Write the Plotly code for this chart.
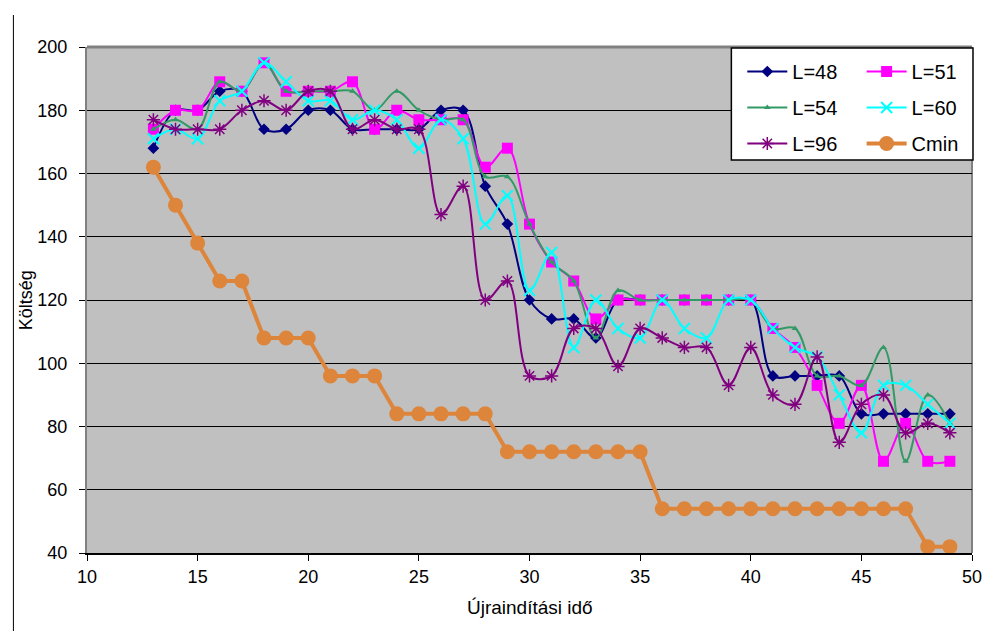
import plotly.graph_objects as go

x_vals = list(range(13, 50))

L48 = [168, 180, 180, 186, 186, 174, 174, 180, 180, 174, 174, 174, 174, 180, 180, 156, 144, 120, 114, 114,
       108, 120, 120, 120, 120, 120, 120, 120, 96, 96, 96, 96, 84, 84, 84, 84, 84]
L51 = [174, 180, 180, 189, 186, 195, 186, 186, 186, 189, 174, 180, 177, 177, 177, 162, 168, 144, 132, 126,
       114, 120, 120, 120, 120, 120, 120, 120, 111, 105, 93, 81, 93, 69, 81, 69, 69]
L54 = [174, 177, 174, 189, 186, 195, 186, 186, 186, 186, 180, 186, 180, 177, 177, 159, 159, 144, 132, 126,
       108, 123, 120, 120, 120, 120, 120, 120, 111, 111, 96, 96, 93, 105, 69, 90, 81]
L60 = [171, 174, 171, 183, 186, 195, 189, 183, 183, 177, 180, 177, 168, 177, 171, 144, 153, 123, 135, 105,
       120, 111, 108, 120, 111, 108, 120, 120, 111, 105, 102, 90, 78, 93, 93, 87, 81]
L96 = [177, 174, 174, 174, 180, 183, 180, 186, 186, 174, 177, 174, 174, 147, 156, 120, 126, 96, 96, 111,
       111, 99, 111, 108, 105, 105, 93, 105, 90, 87, 102, 75, 87, 90, 78, 81, 78]
Cmin = [162, 150, 138, 126, 126, 108, 108, 108, 96, 96, 96, 84, 84, 84, 84, 84, 72, 72, 72, 72,
        72, 72, 72, 54, 54, 54, 54, 54, 54, 54, 54, 54, 54, 54, 54, 42, 42]

x_ticks = [10, 15, 20, 25, 30, 35, 40, 45, 50]
y_ticks = [40, 60, 80, 100, 120, 140, 160, 180, 200]

FONT = "Liberation Sans Narrow, Arial Narrow, Liberation Sans, Arial"
LFONT = "Liberation Sans, Arial"

fig = go.Figure()

def add(name, y, color, symbol, size, legend, group, mline=None, shape="spline", width=2):
    marker = dict(symbol=symbol, size=size, color=color)
    if mline:
        marker["line"] = dict(color=color, width=mline)
    fig.add_trace(go.Scatter(
        x=x_vals, y=y, name=name, mode="lines+markers",
        line=dict(color=color, width=width, shape=shape, smoothing=1.0),
        marker=marker, legend=legend, legendgroup=group))

add("L=48", L48, "#000080", "diamond", 9, "legend", "a")
add("L=51", L51, "#FF00FF", "square", 11, "legend2", "b")
add("L=54", L54, "#339966", "triangle-up", 6, "legend", "c")
add("L=60", L60, "#00FFFF", "x-thin-open", 11, "legend2", "d", mline=2)
add("L=96", L96, "#800080", "asterisk-open", 11, "legend", "e", mline=1.5)
add("Cmin", Cmin, "#DD853B", "circle", 15, "legend2", "f", shape="linear", width=4)

# page body has an 8px margin; work in screen pixels and convert
OFF = 8
W, H = 986, 623
# plot area on screen: x 87..977, y 47..553
ml = 87 - OFF
mt = 47 - OFF
pw = 977 - 87
ph = 553 - 47
mr = W - ml - pw
mb = H - mt - ph

def px2x(p):
    return (p - OFF - ml) / pw

def py2y(p):
    return (mt + ph - (p - OFF)) / ph

shapes = [
    dict(type="line", xref="paper", yref="paper", x0=0, x1=1, y0=1, y1=1,
         line=dict(color="#808080", width=3), layer="below"),
    dict(type="line", xref="paper", yref="paper", x0=1, x1=1, y0=0, y1=1,
         line=dict(color="#808080", width=2), layer="below"),
    dict(type="rect", xref="paper", yref="paper",
         x0=px2x(735), x1=px2x(978), y0=py2y(160), y1=py2y(48),
         fillcolor="white", line=dict(color="black", width=1.5), layer="above"),
    dict(type="line", xref="paper", yref="paper", x0=px2x(13), x1=px2x(13),
         y0=py2y(640), y1=py2y(15), line=dict(color="black", width=1)),
]

legend_common = dict(
    bgcolor="rgba(0,0,0,0)", borderwidth=0, font=dict(family=LFONT, size=20, color="black"),
    tracegroupgap=7, itemwidth=40, yanchor="top", xanchor="left", orientation="v",
)

fig.update_layout(
    width=W, height=H,
    margin=dict(l=ml, r=mr, t=mt, b=mb),
    paper_bgcolor="white",
    plot_bgcolor="#C0C0C0",
    shapes=shapes,
    legend=dict(x=px2x(746), y=py2y(52), **legend_common),
    legend2=dict(x=px2x(866), y=py2y(52), **legend_common),
    xaxis=dict(
        range=[10, 50], tickvals=x_ticks, ticktext=[str(v) for v in x_ticks],
        showgrid=False, zeroline=False, ticks="outside", ticklen=6, tickcolor="black",
        tickwidth=1, showline=True, linecolor="black", linewidth=2,
        tickfont=dict(family=FONT, size=18, color="black"),
    ),
    yaxis=dict(
        range=[40, 200], tickvals=y_ticks, ticktext=[str(v) for v in y_ticks],
        showgrid=True, gridcolor="black", gridwidth=1, zeroline=False,
        ticks="outside", ticklen=6, tickcolor="black", tickwidth=1,
        showline=True, linecolor="#808080", linewidth=2,
        ticklabelstandoff=8,
        tickfont=dict(family=FONT, size=18, color="black"),
    ),
    annotations=[
        dict(text="Költség", xref="paper", yref="paper", x=px2x(26), y=py2y(300),
             textangle=-90, showarrow=False, font=dict(family=FONT, size=18, color="black"),
             xanchor="center", yanchor="middle"),
        dict(text="Újraindítási idő", xref="paper", yref="paper", x=px2x(532), y=py2y(607),
             showarrow=False, font=dict(family=FONT, size=19, color="black"),
             xanchor="center", yanchor="middle"),
    ],
)

fig.write_html("out.html")
